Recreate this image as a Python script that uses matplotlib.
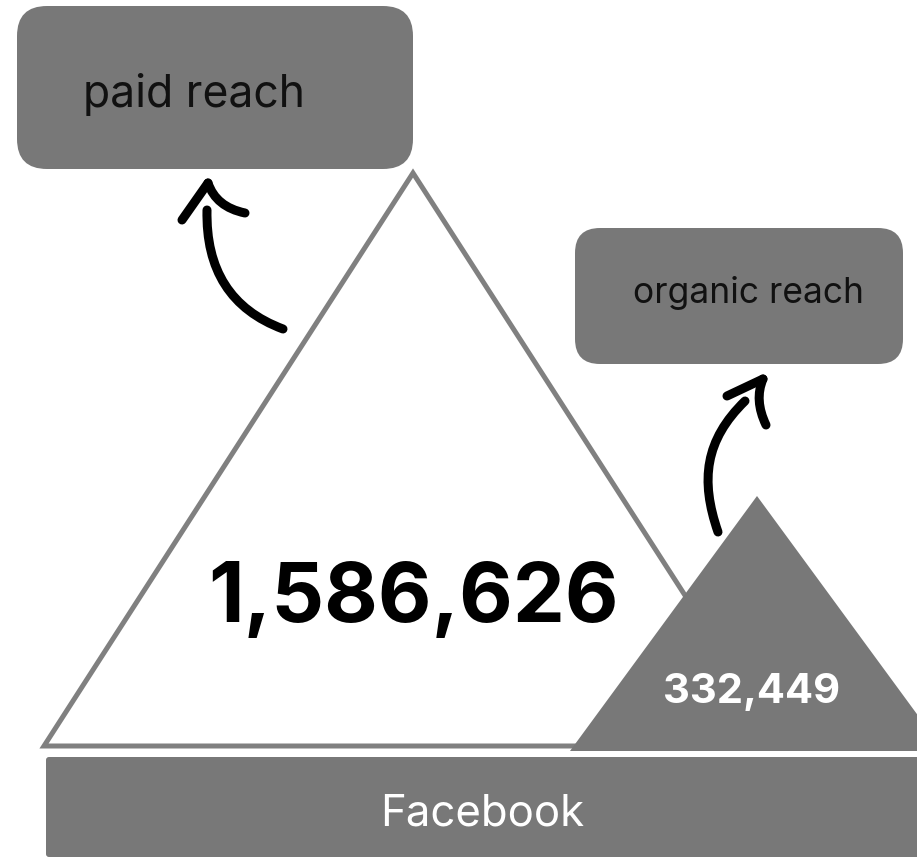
import matplotlib
matplotlib.use("Agg")
import matplotlib.pyplot as plt
from matplotlib.patches import FancyBboxPatch, Polygon, PathPatch
from matplotlib.path import Path

# ---- data ----
categories = ["paid reach", "organic reach"]
values = [1586626, 332449]
platform = "Facebook"

# ---- style ----
GRAY = "#787878"
EDGE = "#808080"
FONT = ["Inter", "DejaVu Sans"]
plt.rcParams["font.family"] = FONT

W, H = 917, 858
fig = plt.figure(figsize=(W / 100, H / 100), dpi=100)
ax = fig.add_axes([0, 0, 1, 1])
ax.set_xlim(0, W)
ax.set_ylim(H, 0)
ax.axis("off")

# label boxes
paid_box = FancyBboxPatch((17, 6), 396, 163, boxstyle="round,pad=0,rounding_size=30",
                          fc=GRAY, ec="none")
org_box = FancyBboxPatch((575, 228), 328, 136, boxstyle="round,pad=0,rounding_size=25",
                         fc=GRAY, ec="none")
ax.add_patch(paid_box)
ax.add_patch(org_box)
ax.text(83, 107, categories[0], fontsize=32, color="#111111", ha="left", va="baseline")
ax.text(633, 303, categories[1], fontsize=25.5, color="#111111", ha="left", va="baseline")

# big triangle (paid)
big_apex = (413, 173)
big_base_y = 746
big_half = 369
ax.add_patch(Polygon([(big_apex[0] - big_half, big_base_y), big_apex,
                      (big_apex[0] + big_half, big_base_y)], closed=True,
                     fc="white", ec=EDGE, lw=3.6, joinstyle="miter"))

# small triangle (organic)
sm_apex = (757, 496)
sm_base_y = 751
sm_half = 187
ax.add_patch(Polygon([(sm_apex[0] - sm_half, sm_base_y), sm_apex,
                      (sm_apex[0] + sm_half, sm_base_y)], closed=True,
                     fc=GRAY, ec="none"))

# value labels
ax.text(413, 622, f"{values[0]:,}", fontsize=59.5, fontweight="bold", color="black",
        ha="center", va="baseline")
ax.text(752, 703, f"{values[1]:,}", fontsize=30, fontweight="bold", color="white",
        ha="center", va="baseline")

# platform bar
ax.add_patch(FancyBboxPatch((46, 757), 890, 100, boxstyle="round,pad=0,rounding_size=3",
                            fc=GRAY, ec="none"))
ax.text(482, 825, platform, fontsize=31.5, color="white", ha="center", va="baseline")

# hand-drawn arrows
def stroke(verts, codes):
    ax.add_patch(PathPatch(Path(verts, codes), fc="none", ec="black", lw=6.5,
                           capstyle="round", joinstyle="round"))

C3, C4, M, L = Path.CURVE3, Path.CURVE4, Path.MOVETO, Path.LINETO
# paid arrow
stroke([(283, 329), (205, 300), (207, 210)], [M, C3, C3])
stroke([(182, 220), (208, 183)], [M, L])
stroke([(208, 183), (216, 207), (245, 213)], [M, C3, C3])
# organic arrow
stroke([(718, 532), (700, 480), (705, 440), (745, 401)], [M, C4, C4, C4])
stroke([(727, 396), (763, 379)], [M, L])
stroke([(763, 379), (754, 400), (766, 425)], [M, C3, C3])

fig.savefig("out.png", dpi=100, facecolor="white")
